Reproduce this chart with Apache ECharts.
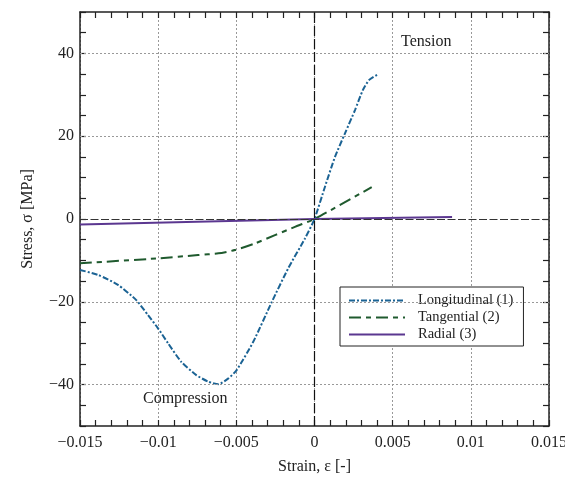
<!DOCTYPE html>
<html><head><meta charset="utf-8">
<script src="https://cdn.jsdelivr.net/npm/echarts@6/dist/echarts.min.js"></script>
<style>html,body{margin:0;padding:0;background:#fff}#c{width:565px;height:481px}</style>
</head><body><div id="c"></div>
<script>
// Data: [strain, stress MPa]
const longitudinal = [
  [-0.015,-12.3],[-0.01385,-13.5],[-0.01257,-15.9],[-0.0114,-19.6],[-0.01065,-23.2],
  [-0.01001,-26.4],[-0.00937,-30.0],[-0.00852,-34.5],[-0.00756,-37.7],[-0.00679,-39.3],
  [-0.00615,-39.9],[-0.00551,-38.5],[-0.00498,-36.5],[-0.00391,-29.6],[-0.00274,-20.1],
  [-0.00168,-11.9],[-0.00061,-4.7],[0,0],[0.00067,7.8],[0.00131,15.0],[0.00195,20.7],
  [0.00259,26.3],[0.0031,31.2],[0.0035,33.6],[0.004,34.8]
];
const tangential = [
  [-0.015,-10.7],[-0.01,-9.5],[-0.00745,-8.7],[-0.00615,-8.3],[-0.00509,-7.5],
  [-0.00381,-5.9],[-0.00253,-3.9],[-0.00125,-1.9],[0,0],[0.00366,7.7]
];
const radial = [[-0.015,-1.3],[0,0],[0.0088,0.5]];
const seriesNames = ['Longitudinal (1)','Tangential (2)','Radial (3)'];
const yGridValues = [-40,-20,20,40];
const annotations = ['Tension','Compression'];

const FONT = 'Liberation Serif';
const fmtX = v => { const r = Math.round(v*1000)/1000; return r===0?'0':String(r).replace('-','\u2212'); };
const fmtY = v => (Math.round(v)%20===0 && Math.abs(v)<50) ? String(Math.round(v)).replace('-','\u2212') : '';

const axisLine = {show:true, onZero:false, lineStyle:{color:'#222', width:1.5}};
const tick = {show:true, inside:true, length:6, lineStyle:{color:'#222', width:1.2}};
const minor = {show:true, splitNumber:5, length:6, lineStyle:{color:'#222', width:1.2}};
const grayDot = {color:'#999', width:1, type:[2,2]};

const chart = echarts.init(document.getElementById('c'));
chart.setOption({
  animation:false,
  backgroundColor:'#fff',
  grid:{left:80, right:16, top:12, bottom:55, containLabel:false, outerBoundsMode:'none'},
  xAxis:[
    {type:'value', min:-0.015, max:0.015, interval:0.005, position:'bottom',
     axisLine, axisTick:tick, minorTick:minor,
     axisLabel:{formatter:fmtX, color:'#222', fontFamily:FONT, fontSize:16, margin:9},
     splitLine:{show:true, lineStyle:grayDot},
     name:'Strain, \u03b5 [-]', nameLocation:'middle', nameGap:33,
     nameTextStyle:{color:'#222', fontFamily:FONT, fontSize:16}},
    {type:'value', min:-0.015, max:0.015, interval:0.005, position:'top',
     axisLine, axisTick:tick, minorTick:minor, axisLabel:{show:false}, splitLine:{show:false}}
  ],
  yAxis:[
    {type:'value', min:-50, max:50, interval:5, position:'left',
     axisLine, axisTick:tick,
     axisLabel:{formatter:fmtY, color:'#222', fontFamily:FONT, fontSize:16, margin:6},
     splitLine:{show:false},
     name:'Stress, \u03c3 [MPa]', nameLocation:'middle', nameGap:44, nameRotate:90,
     nameTextStyle:{color:'#222', fontFamily:FONT, fontSize:16}},
    {type:'value', min:-50, max:50, interval:5, position:'right',
     axisLine, axisTick:tick, axisLabel:{show:false}, splitLine:{show:false}}
  ],
  legend:{
    orient:'vertical', left:340, top:287,
    backgroundColor:'#fff', borderColor:'#222', borderWidth:1, borderRadius:0,
    padding:[6,10,4,8], itemWidth:56, itemHeight:14, itemGap:2,
    itemStyle:{opacity:0},
    textStyle:{fontFamily:FONT, fontSize:14.5, color:'#222', padding:[0,0,0,8]},
    data:seriesNames
  },
  series:[
    {name:'guides', type:'line', data:[], silent:true,
     markLine:{silent:true, symbol:'none', label:{show:false}, animation:false,
       data:[
         ...yGridValues.map(v=>({yAxis:v, lineStyle:grayDot})),
         {yAxis:0, lineStyle:{color:'#333', width:1.2, type:[8,2.5]}},
         {xAxis:0, lineStyle:{color:'#111', width:1.2, type:[10,3]}}
       ]}},
    {name:seriesNames[0], type:'line', data:longitudinal, smooth:0.2, symbol:'none', z:4,
     lineStyle:{color:'#1b6394', width:2, type:[6,2,2,2]}, itemStyle:{color:'#1b6394'}},
    {name:seriesNames[1], type:'line', data:tangential, smooth:0.2, symbol:'none', z:3,
     lineStyle:{color:'#1f5a2e', width:2, type:[12,5,5,5]}, itemStyle:{color:'#1f5a2e'}},
    {name:seriesNames[2], type:'line', data:radial, symbol:'none', z:3,
     lineStyle:{color:'#5b3790', width:2}, itemStyle:{color:'#5b3790'}}
  ],
  graphic:[
    {type:'text', left:401, top:34, style:{text:annotations[0], font:'16px "Liberation Serif"', fill:'#222'}},
    {type:'text', left:143, top:391, style:{text:annotations[1], font:'16px "Liberation Serif"', fill:'#222'}}
  ]
});
</script></body></html>
